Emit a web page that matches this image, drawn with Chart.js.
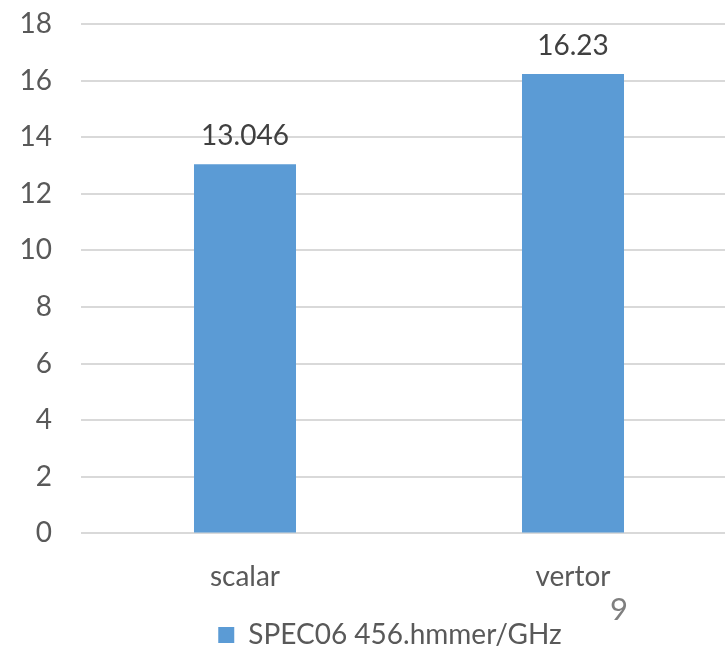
<!DOCTYPE html>
<html>
<head>
<meta charset="utf-8">
<script src="https://cdn.jsdelivr.net/npm/chart.js@4"></script>
<style>
  html, body { margin: 0; padding: 0; background: #fff; overflow: hidden; }
  #wrap { position: relative; width: 725px; height: 650px; overflow: hidden; }
  #pageNo { position: absolute; left: 610px; top: 589px; font: 31px Lato, "Open Sans", sans-serif; color: #7f7f7f; }
</style>
</head>
<body>
<div id="wrap">
  <canvas id="c" width="780" height="663"></canvas>
  <div id="pageNo">9</div>
</div>
<script>
const categories = ['scalar', 'vertor'];
const seriesName = 'SPEC06 456.hmmer/GHz';
const values = [13.046, 16.23];
const valueLabels = ['13.046', '16.23'];
const yTicks = [0, 2, 4, 6, 8, 10, 12, 14, 16, 18];

const FONT = 'Lato, "Open Sans", sans-serif';
const SIZE = 28;

// Writes each bar's value just above the bar.
const barValues = {
  id: 'barValues',
  afterDatasetsDraw(chart) {
    const ctx = chart.ctx;
    const meta = chart.getDatasetMeta(0);
    ctx.save();
    ctx.font = SIZE + 'px ' + FONT;
    ctx.fillStyle = '#404040';
    ctx.textAlign = 'center';
    ctx.textBaseline = 'alphabetic';
    meta.data.forEach((bar, i) => {
      ctx.fillText(valueLabels[i], bar.x, bar.y - 19);
    });
    ctx.restore();
  }
};

new Chart(document.getElementById('c'), {
  type: 'bar',
  data: {
    labels: categories,
    datasets: [{
      label: seriesName,
      data: values,
      backgroundColor: '#5b9bd5',
      borderWidth: 0,
      categoryPercentage: 1,
      barPercentage: 0.311
    }]
  },
  options: {
    responsive: false,
    animation: false,
    devicePixelRatio: 1,
    layout: { padding: { top: 24, right: 0, left: 0, bottom: 4 } },
    scales: {
      y: {
        min: 0,
        max: 18,
        afterFit(scale) { scale.width = 81; },
        afterBuildTicks(scale) { scale.ticks = yTicks.map(v => ({ value: v })); },
        border: { display: false },
        grid: { color: '#d9d9d9', lineWidth: 2, drawTicks: true, tickLength: 29, tickColor: 'rgba(0,0,0,0)' },
        ticks: { padding: 0, color: '#595959', font: { family: FONT, size: SIZE } }
      },
      // empty right-hand margin so the plot runs past the visible edge
      margin: {
        position: 'right',
        afterFit(scale) { scale.width = 43; },
        border: { display: false },
        grid: { display: false },
        ticks: { display: false }
      },
      x: {
        border: { display: false },
        grid: { display: false, drawTicks: false },
        ticks: { padding: 27, color: '#595959', font: { family: FONT, size: SIZE } }
      }
    },
    plugins: {
      tooltip: { enabled: false },
      legend: {
        position: 'bottom',
        labels: {
          boxWidth: 16,
          boxHeight: 16,
          padding: 0,
          color: '#595959',
          font: { family: FONT, size: SIZE }
        }
      }
    }
  },
  plugins: [barValues]
});
</script>
</body>
</html>
